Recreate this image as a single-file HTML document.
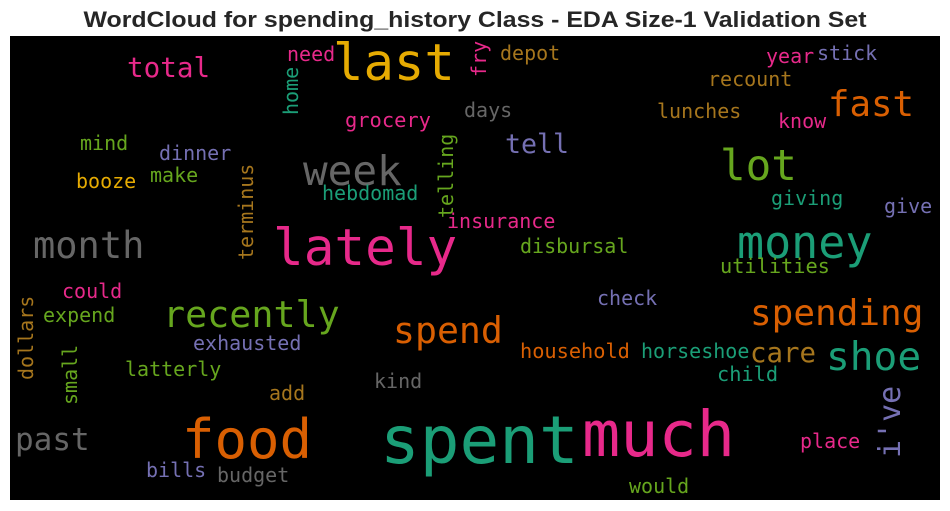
<!DOCTYPE html>
<html><head><meta charset="utf-8"><style>
html,body{margin:0;padding:0;background:#fff;width:950px;height:511px;overflow:hidden}
svg text{font-family:"DejaVu Sans Mono","Liberation Mono",monospace}
</style></head><body>
<svg id="wc" width="950" height="511" xmlns="http://www.w3.org/2000/svg">
<text x="475" y="27" text-anchor="middle" textLength="783" lengthAdjust="spacingAndGlyphs" style="font-family:'Liberation Sans',sans-serif;font-weight:bold;font-size:22px;fill:#262626">WordCloud for spending_history Class - EDA Size-1 Validation Set</text>
<rect x="10" y="36" width="930" height="464" fill="#000"/>
<g id="words"></g>
</svg>
<script>
const words=["spent","much","food","lately","last","week","lot","money","month","recently","spending","shoe","spend","fast","past","i've","total","tell","care","household","horseshoe","child","check","utilities","disbursal","insurance","giving","give","know","lunches","recount","year","stick","depot","fry","days","grocery","need","home","hebdomad","telling","terminus","mind","dinner","make","booze","could","expend","dollars","small","exhausted","latterly","add","kind","bills","budget","would","place"];
const sizes=[66,63.5,54,51,50.6,41,42.6,45,37,36.7,36,39.5,36.5,35.7,31,30,27.6,26.6,27.4,20.3,20,20.3,20,20.3,20,20,20,20,20,20,20,20,20,20,20,20,20.4,20,20,20,20,20,20,20,20,20,20,20,20,20,20,20,20,20,20,20,20,20];
const colors=["#1b9e77","#e7298a","#d95f02","#e7298a","#e6ab02","#666666","#66a61e","#1b9e77","#666666","#66a61e","#d95f02","#1b9e77","#d95f02","#d95f02","#666666","#7570b3","#e7298a","#7570b3","#a6761d","#d95f02","#1b9e77","#1b9e77","#7570b3","#66a61e","#66a61e","#e7298a","#1b9e77","#7570b3","#e7298a","#a6761d","#a6761d","#e7298a","#7570b3","#a6761d","#e7298a","#666666","#e7298a","#e7298a","#1b9e77","#1b9e77","#66a61e","#a6761d","#66a61e","#7570b3","#66a61e","#e6ab02","#e7298a","#66a61e","#a6761d","#66a61e","#7570b3","#66a61e","#a6761d","#666666","#7570b3","#666666","#66a61e","#e7298a"];
const posX=[380,582,182,273,333,303,720,737,33,163,750,826,393,828,15,900,127,505,750,520,641,717,597,720,520,447,771,884,778,657,708,766,817,500,486,464,345,287,298,322,453,253,80,159,150,76,62,43,33,77,193,125,269,374,146,217,629,800];
const posY=[463,456,458,265,80,185,180,258,258,327,325,370,343,116,450,458,77,153,362,358,358,381,305,273,253,228,205,213,128,118,86,63,60,60,77,117,127,61,115,200,218,260,150,160,182,188,298,322,380,405,350,376,400,388,477,482,493,448];
const vertical=["i've","fry","home","telling","terminus","dollars","small"];
const g=document.getElementById('words');
words.forEach((w,i)=>{
  const t=document.createElementNS('http://www.w3.org/2000/svg','text');
  
  
  t.setAttribute('x',posX[i]);
  t.setAttribute('y',posY[i]);
  t.setAttribute('font-size',sizes[i]);
  t.setAttribute('fill',colors[i]);
  if(vertical.includes(w)) t.setAttribute('transform','rotate(-90 '+posX[i]+' '+posY[i]+')');
  t.textContent=w;
  g.appendChild(t);
});
</script>
</body></html>
